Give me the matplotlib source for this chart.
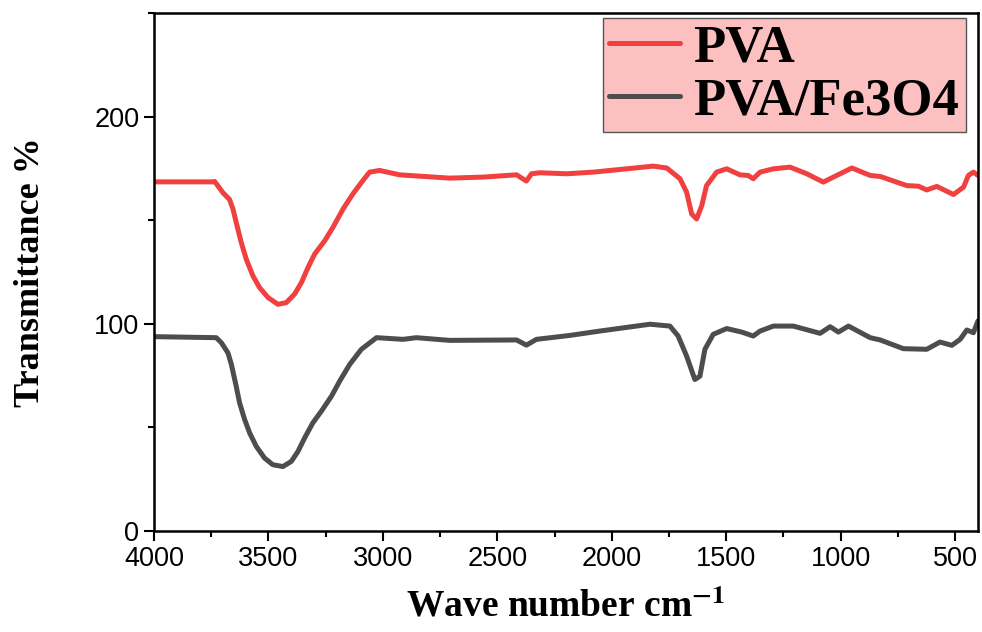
import matplotlib
matplotlib.use("Agg")
import matplotlib.pyplot as plt
from matplotlib.ticker import MultipleLocator

plt.rcParams['mathtext.fontset'] = 'stix'

# PVA spectrum (wavenumber, transmittance)
pva_x = [4000, 3744, 3735, 3699, 3670, 3655, 3641, 3619, 3597, 3568, 3539, 3502, 3459, 3422,
         3386, 3356, 3327, 3298, 3254, 3218, 3174, 3131, 3087, 3058, 3014, 2927, 2708, 2563,
         2416, 2373, 2351, 2314, 2197, 2081, 1935, 1819, 1760, 1702, 1673, 1651, 1629, 1607,
         1586, 1542, 1498, 1440, 1404, 1382, 1352, 1294, 1221, 1148, 1076, 1017, 951, 871, 827,
         711, 660, 624, 580, 507, 463, 442, 420, 400]
pva_y = [168.5, 168.5, 168.7, 163.3, 160.0, 155.4, 149.0, 139.3, 131.2, 123.2, 117.5, 112.7, 109.4, 110.2,
         114.3, 119.9, 127.2, 133.7, 140.1, 146.6, 155.4, 162.7, 169.2, 173.2, 174.0, 171.9, 170.3, 170.8,
         171.9, 168.9, 172.4, 172.9, 172.4, 173.2, 174.8, 176.1, 175.2, 170.0, 163.5, 153.0, 150.6, 157.0,
         166.7, 173.2, 174.8, 171.9, 171.6, 170.0, 173.2, 174.8, 175.6, 172.4, 168.4, 171.6, 175.2, 171.6, 171.1,
         166.7, 166.4, 164.6, 166.3, 162.4, 166.0, 171.6, 173.2, 171.6]

# PVA/Fe3O4 spectrum
fe_x = [4000, 3728, 3706, 3677, 3662, 3641, 3626, 3604, 3582, 3553, 3517, 3481, 3437, 3400,
        3371, 3342, 3306, 3269, 3225, 3189, 3145, 3094, 3028, 2912, 2854, 2708, 2416, 2373,
        2329, 2183, 2052, 1833, 1746, 1710, 1673, 1637, 1615, 1593, 1557, 1498, 1432, 1382,
        1352, 1294, 1207, 1090, 1046, 1010, 966, 871, 827, 726, 624, 566, 514, 478, 449, 420, 400]
fe_y = [93.8, 93.3, 90.9, 86.0, 80.4, 69.9, 61.8, 53.8, 47.3, 40.8, 35.2, 32.0, 31.1, 33.6,
        38.4, 44.9, 52.2, 57.8, 65.0, 72.3, 80.4, 87.7, 93.3, 92.5, 93.3, 92.0, 92.2, 89.7,
        92.5, 94.4, 96.5, 99.8, 98.9, 94.1, 84.4, 73.1, 74.7, 87.7, 94.9, 97.7, 96.0, 94.1,
        96.5, 98.9, 98.9, 95.4, 98.6, 96.0, 98.9, 93.3, 92.2, 88.0, 87.7, 91.2, 89.6, 92.5, 97.0, 95.7, 101.4]

labels = ["PVA", "PVA/Fe3O4"]
colors = ["#F04040", "#4D4D4D"]

fig = plt.figure(figsize=(9.82, 6.32), dpi=100)
ax = fig.add_axes([154/982, 1-531/632, (978-154)/982, (531-13)/632])

ax.plot(pva_x, pva_y, color=colors[0], lw=3.6, label=labels[0], solid_capstyle='round', solid_joinstyle='round')
ax.plot(fe_x, fe_y, color=colors[1], lw=3.6, label=labels[1], solid_capstyle='round', solid_joinstyle='round')

ax.set_xlim(4000, 400)
ax.set_ylim(0, 250)
ax.xaxis.set_major_locator(MultipleLocator(500))
ax.xaxis.set_minor_locator(MultipleLocator(250))
ax.yaxis.set_major_locator(MultipleLocator(100))
ax.yaxis.set_minor_locator(MultipleLocator(50))
ax.tick_params(which='major', direction='out', length=7, width=1.5, labelsize=19.5)
ax.tick_params(which='minor', direction='out', length=4, width=1.5)
for lab in ax.get_xticklabels() + ax.get_yticklabels():
    lab.set_fontfamily('Liberation Sans')
for s in ax.spines.values():
    s.set_linewidth(1.8)

ax.set_xlabel(r'Wave number cm$^{\mathbf{-1}}$', fontsize=27, fontweight='bold',
              family='Liberation Serif', labelpad=12)
ax.set_ylabel('Transmittance %', fontsize=26, fontweight='bold', family='Liberation Serif', labelpad=34)

leg = ax.legend(loc='upper right', bbox_to_anchor=(0.985, 0.99), borderaxespad=0,
                prop={'family': 'Liberation Serif', 'weight': 'bold', 'size': 38},
                handlelength=1.35, handletextpad=0.25, borderpad=0.12, labelspacing=0.1,
                fancybox=False, framealpha=1)
leg.get_frame().set_facecolor('#FCC0C0')
leg.get_frame().set_edgecolor('#555555')
leg.get_frame().set_linewidth(1.0)
for line in leg.get_lines():
    line.set_linewidth(3.6)

fig.savefig('out.png', dpi=100)
